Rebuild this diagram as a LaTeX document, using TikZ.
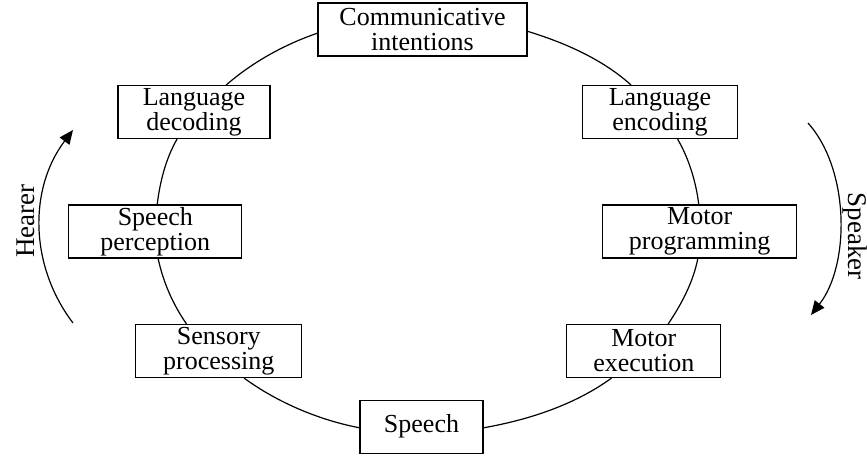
\documentclass[tikz,border=0pt]{standalone}
\usepackage{fontspec}
\setmainfont{Liberation Serif}
\usetikzlibrary{arrows.meta}
\begin{document}
\begin{tikzpicture}[x=0.5pt, y=-0.5pt, line width=0.6pt,
	every node/.style={draw, align=center, inner sep=0pt, minimum height=26.5pt, font=\fontsize{13}{12.5}\selectfont},
	side/.style={draw=none, minimum height=0pt, font=\fontsize{13.5}{14}\selectfont}]
			\useasboundingbox (0,0) rectangle (867,460);
			\node[minimum width=104.5pt] (comm) at (422.5,29.5) {Communicative\\intentions};
			\node[minimum width=76pt] (dec) at (194,112) {Language\\decoding};
			\node[minimum width=77.5pt] (enc) at (660,112) {Language\\encoding};
			\node[minimum width=86.5pt] (perc) at (155.3,231.5) {Speech\\perception};
			\node[minimum width=97pt] (prog) at (699.7,231.5) {Motor\\programming};
			\node[minimum width=83pt] (sens) at (218.8,351) {Sensory\\processing};
			\node[minimum width=77pt] (exec) at (643.8,351) {Motor\\execution};
			\node[minimum width=61.5pt] (speech) at (421.5,426.7) {Speech};
			
			\foreach \from/\to/\o/\i in {comm.182/dec.40/199/41, dec.238/perc.86/240/83, perc.276/sens.140/282/125, sens.313/speech.181/324/169, speech.359/exec.220/10/216, exec.48/prog.266/56/259, prog.92/enc.303/97/300, enc.137/comm.359/138/343}
			\draw[looseness=0.85] (\from) to[out=\o, in=\i] (\to);
			
			\coordinate (h1) at (73,323);
			\coordinate (h2) at (73,130);
			\coordinate (s1) at (808,123);
			\coordinate (s2) at (811,315);
			\draw[-{Triangle[length=7pt, width=6pt]}] (h1) .. controls (29,265) and (29,188) .. (h2);
			\draw[-{Triangle[length=7pt, width=6pt]}] (s1) .. controls (850,170) and (850,265) .. (s2);
			\node[side, rotate=90] (hearer) at (26,221) {Hearer};
			\node[side, rotate=-90] (speaker) at (855,236) {Speaker};
			\end{tikzpicture}
\end{document}
